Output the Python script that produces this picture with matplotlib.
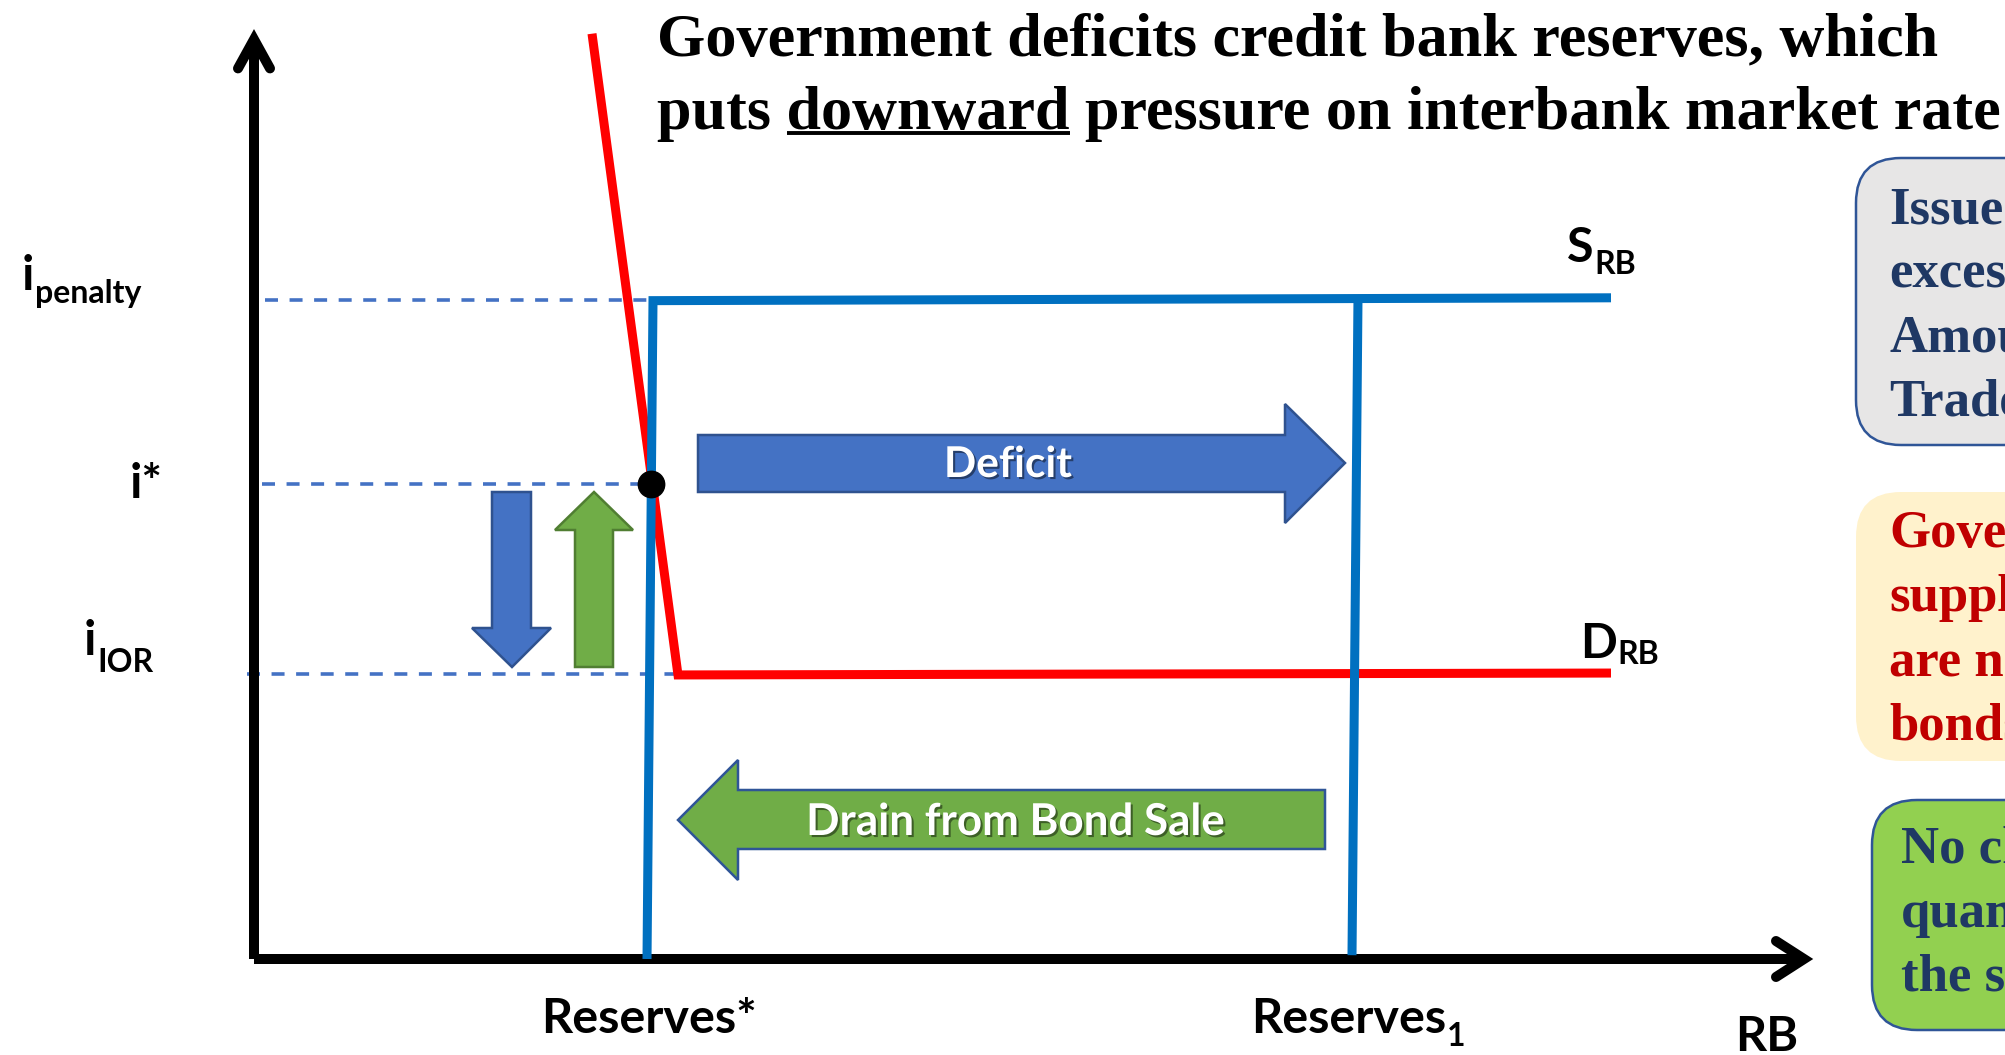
import matplotlib
matplotlib.use("Agg")
import matplotlib.pyplot as plt
import matplotlib.transforms as mtransforms
from matplotlib.patches import Polygon, FancyBboxPatch
import matplotlib.patheffects as pe

W, H = 2005, 1055

# ---------------- data (chart units: reserves on x, interest rate on y) ----------------
rate_names = ["penalty", "*", "IOR"]
rate_values = [3.47, 2.5, 1.5]            # i_penalty, i*, i_IOR
guide_start = [0.055, 0.04, -0.035]       # dashed guides start (reserves units)
guide_end = [1.99, 1.985, 2.1]            # dashed guides end

reserve_names = ["Reserves*", "Reserves"]
reserve_values = [1.98, 5.5]

demand_x = [1.69, 2.12, 6.785]            # D_RB
demand_y = [4.87, 1.495, 1.505]
supply_x = [1.965, 1.995, 6.785]          # S_RB (initial)
supply_y = [0.0, 3.465, 3.48]
supply1_x = [5.49, 5.52]                  # supply after deficit
supply1_y = [0.02, 3.48]
equilibrium_x = [1.985]
equilibrium_y = [2.5]

axis_x_end = 7.75
axis_y_end = 4.84

title_lines = ["Government deficits credit bank reserves, which",
               "puts downward pressure on interbank market rate"]
underlined_word = "downward"

box1_lines = ["Issue", "excess", "Amount", "Traded"]
box2_lines = ["Government", "supplies", "are not", "bonds"]
box3_lines = ["No change", "quantity", "the supply"]

# ---------------- figure ----------------
sans = "Lato"
serif = "Liberation Serif"

fig = plt.figure(figsize=(W / 100, H / 100), dpi=100)
ax = fig.add_axes([0, 0, 1, 1])
ax.set_xlim(-254 / 200, (W - 254) / 200)
ax.set_ylim(-(H - 959) / 190, 959 / 190)
ax.axis("off")

PX = mtransforms.Affine2D().scale(1, -1).translate(0, H)   # pixel layout, y down
renderer = fig.canvas.get_renderer()


def ptext(x, y, s, size, **kw):
    kw.setdefault("ha", "left")
    kw.setdefault("va", "baseline")
    return ax.text(x, y, s, transform=PX, fontsize=size, **kw)


def fit_width(t, target):
    bb = t.get_window_extent(renderer=renderer)
    t.set_fontsize(t.get_fontsize() * target / bb.width)
    return t.get_fontsize()


def text_width(s, size, **kw):
    t = ax.text(0, 0, s, transform=PX, fontsize=size, **kw)
    w = t.get_window_extent(renderer=renderer).width
    t.remove()
    return w


# ---- axes (black arrows) ----
k_lw = 7.2
ax.plot([0, 0], [0, axis_y_end], color="k", lw=k_lw, solid_capstyle="butt", zorder=2)
ax.plot([0, axis_x_end], [0, 0], color="k", lw=k_lw, solid_capstyle="butt", zorder=2)
ax.plot([-16 / 200, 0, 16 / 200], [axis_y_end - 29 / 190, axis_y_end, axis_y_end - 29 / 190],
        color="k", lw=k_lw, solid_capstyle="round", solid_joinstyle="miter", zorder=2)
ax.plot([axis_x_end - 28 / 200, axis_x_end, axis_x_end - 28 / 200], [18 / 190, 0, -18 / 190],
        color="k", lw=k_lw, solid_capstyle="round", solid_joinstyle="miter", zorder=2)

# ---- dashed guides ----
for v, x0, x1 in zip(rate_values, guide_start, guide_end):
    ax.plot([x0, x1], [v, v], color="#4472C4", lw=2.6, dashes=(3.6, 3.2), zorder=1)

# ---- curves ----
ax.plot(demand_x, demand_y, color="#FF0000", lw=6.5, solid_joinstyle="miter",
        solid_capstyle="butt", zorder=3)
ax.plot(supply_x, supply_y, color="#0070C0", lw=6.5, solid_joinstyle="miter",
        solid_capstyle="butt", zorder=4)
ax.plot(supply1_x, supply1_y, color="#0070C0", lw=6.5, solid_capstyle="butt", zorder=4)
ax.plot(equilibrium_x, equilibrium_y, ls="none", marker="o", ms=19, color="k", zorder=7)

# ---- block arrows ----
def add_poly(pts, fc, ec):
    ax.add_patch(Polygon(pts, closed=True, fc=fc, ec=ec, lw=1.8, transform=PX, zorder=5))

add_poly([(492, 492), (531, 492), (531, 628), (551, 628), (512, 667), (472, 628), (492, 628)],
         "#4472C4", "#2F528F")
add_poly([(575, 667), (613, 667), (613, 530), (633, 530), (594, 492), (555, 530), (575, 530)],
         "#70AD47", "#507E32")
add_poly([(698, 435), (1285, 435), (1285, 404), (1345, 463), (1285, 523), (1285, 492), (698, 492)],
         "#4472C4", "#2F528F")
add_poly([(1325, 790), (738, 790), (738, 760), (678, 820), (738, 880), (738, 849), (1325, 849)],
         "#70AD47", "#2F5597")

shadow = [pe.withSimplePatchShadow(offset=(1.5, -1.5), shadow_rgbFace="k", alpha=0.45)]
t = ptext(1008, 477, "Deficit", 29, ha="center", color="white", family=sans,
          weight="bold", zorder=6, path_effects=shadow)
fit_width(t, 128)
t = ptext(1015, 835, "Drain from Bond Sale", 29, ha="center", color="white", family=sans,
          weight="bold", zorder=6, path_effects=shadow)
fit_width(t, 419)

# ---- axis labels ----
t = ptext(541, 1033, reserve_names[0], 32, family=sans, weight="bold")
main = fit_width(t, 216)
sub = main * 0.66
lab = dict(family=sans, weight="bold")


def main_sub(x, y, m, s, y_sub, gap=1):
    ptext(x, y, m, main, **lab)
    ptext(x + text_width(m, main, **lab) + gap, y_sub, s, sub, **lab)


main_sub(1251, 1033, reserve_names[1], "1", 1046)
ptext(1735, 1051, "RB", main, **lab)

main_sub(22, 290, "i", rate_names[0], 303)
ptext(130, 498, "i" + rate_names[1], main, **lab)
main_sub(84, 655, "i", rate_names[2], 672)

main_sub(1567, 262, "S", "RB", 274)
main_sub(1580, 658, "D", "RB", 664)

# ---- title ----
t2 = ptext(657, 129, title_lines[1], 40, family=serif, weight="bold")
tsize = fit_width(t2, 1341)
ptext(657, 55, title_lines[0], tsize, family=serif, weight="bold")
prefix = title_lines[1].split(underlined_word)[0] + underlined_word
w_pre = text_width(prefix, tsize, family=serif, weight="bold")
w_word = text_width(underlined_word, tsize, family=serif, weight="bold")
ax.plot([657 + w_pre - w_word, 657 + w_pre], [133, 133], color="k", lw=2.8,
        solid_capstyle="butt", transform=PX)

# ---- side boxes (cut off by the right edge) ----
def add_box(x0, top, bottom, fc, ec):
    ax.add_patch(FancyBboxPatch((x0, top), 2200 - x0, bottom - top,
                                boxstyle="round,pad=0,rounding_size=45",
                                fc=fc, ec=ec, lw=1.8, transform=PX, zorder=2))

add_box(1856, 158, 445, "#E7E6E6", "#2F5597")
add_box(1856, 492, 761, "#FFF2CC", "none")
add_box(1872, 800, 1030, "#92D050", "#2F5597")

for i, s in enumerate(box1_lines):
    ptext(1889, 224 + 64 * i, s, 38, family=serif, weight="bold", color="#1F3864", zorder=3)
for i, s in enumerate(box2_lines):
    ptext(1889, 547 + 64 * i, s, 38, family=serif, weight="bold", color="#C00000", zorder=3)
for i, s in enumerate(box3_lines):
    ptext(1901, 863 + 64 * i, s, 38, family=serif, weight="bold", color="#1F3864", zorder=3)

fig.savefig("out.png", dpi=100)
